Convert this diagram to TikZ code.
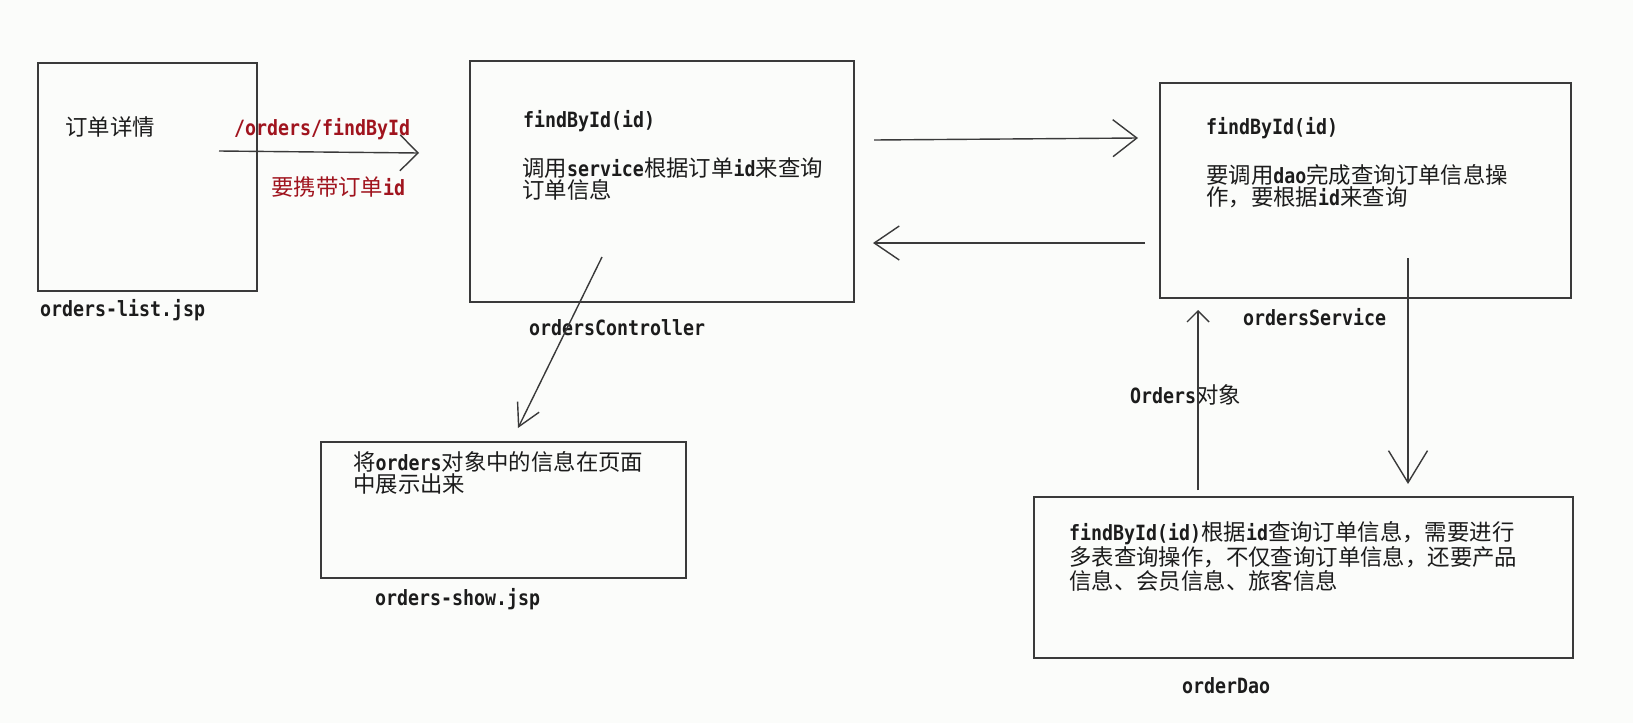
\documentclass[tikz,border=0pt]{standalone}
\usepackage{fontspec}
\setmainfont{Noto Sans CJK SC}
\newfontfamily\monofam{DejaVu Sans Mono}[FakeStretch=0.87]
\newcommand\monotx[1]{{\monofam\bfseries\fontsize{21}{22}\selectfont #1}}
\usetikzlibrary{arrows.meta}
\definecolor{bgc}{HTML}{FBFCFA}
\definecolor{linec}{HTML}{3A3A3A}
\definecolor{txtc}{HTML}{1C1C1C}
\definecolor{redc}{HTML}{A0141E}
\begin{document}
\begin{tikzpicture}[x=1pt,y=-1pt,
  box/.style={draw=linec,line width=1.8pt,inner sep=0pt},
  txt/.style={anchor=base west,inner sep=0pt,text=txtc,font=\fontsize{22.4}{24}\selectfont},
  redtxt/.style={txt,text=redc},
  conn/.style={draw=linec,line width=1.4pt},
]
\fill[bgc] (0,0) rectangle (1633,723);
\useasboundingbox (0,0) rectangle (1633,723);

% boxes
\node[box,minimum width=219pt,minimum height=228pt] (list) at (147.5,177) {};
\node[box,minimum width=384pt,minimum height=241pt] (ctrl) at (662,181.5) {};
\node[box,minimum width=411pt,minimum height=215pt] (svc) at (1365.5,190.5) {};
\node[box,minimum width=365pt,minimum height=136pt] (show) at (503.5,510) {};
\node[box,minimum width=539pt,minimum height=161pt] (dao) at (1303.5,577.5) {};

% texts
\node[txt] (t1) at (65,135) {订单详情};
\node[redtxt] (t2) at (234,135) {\monotx{/orders/findById}};
\node[redtxt] (t3) at (271,195) {要携带订单\monotx{id}};
\node[txt] (t4) at (40,316) {\monotx{orders-list.jsp}};

\node[txt] (c1) at (523,127) {\monotx{findById(id)}};
\node[txt] (c2) at (522,176) {调用\monotx{service}根据订单\monotx{id}来查询};
\node[txt] (c3) at (522,198) {订单信息};
\node[txt] (c4) at (529,335) {\monotx{ordersController}};

\node[txt] (s1) at (1206,134) {\monotx{findById(id)}};
\node[txt] (s2) at (1206,183) {要调用\monotx{dao}完成查询订单信息操};
\node[txt] (s3) at (1206,205) {作，要根据\monotx{id}来查询};
\node[txt] (s4) at (1243,325) {\monotx{ordersService}};

\node[txt] (o1) at (1130,403) {\monotx{Orders}对象};

\node[txt] (w1) at (353,470) {将\monotx{orders}对象中的信息在页面};
\node[txt] (w2) at (353,492) {中展示出来};
\node[txt] (w3) at (375,605) {\monotx{orders-show.jsp}};

\node[txt] (d1) at (1069,540) {\monotx{findById(id)}根据\monotx{id}查询订单信息，需要进行};
\node[txt] (d2) at (1069,565) {多表查询操作，不仅查询订单信息，还要产品};
\node[txt] (d3) at (1069,589) {信息、会员信息、旅客信息};
\node[txt] (d4) at (1182,693) {\monotx{orderDao}};

% connector end points
\coordinate (a1s) at (219,151);
\coordinate (a1e) at (419,153);
\coordinate (a2s) at (874,140);
\coordinate (a2e) at (1138,138);
\coordinate (a3s) at (1145,243);
\coordinate (a3e) at (873,243);
\coordinate (a4s) at (602,257);
\coordinate (a4e) at (518,428);
\coordinate (a5s) at (1408,258);
\coordinate (a5e) at (1408,484);
\coordinate (a6s) at (1198,490);
\coordinate (a6e) at (1198,310);

\draw[conn,-{Straight Barb[length=18pt,width=36pt,line width=1.4pt]}] (a1s) -- (a1e);
\draw[conn,-{Straight Barb[length=24pt,width=37pt,line width=1.4pt]}] (a2s) -- (a2e);
\draw[conn,-{Straight Barb[length=25pt,width=34pt,line width=1.4pt]}] (a3s) -- (a3e);
\draw[conn,-{Straight Barb[length=22pt,width=24pt,line width=1.4pt]}] (a4s) -- (a4e);
\draw[conn,-{Straight Barb[length=32pt,width=39pt,line width=1.4pt]}] (a5s) -- (a5e);
\draw[conn,-{Straight Barb[length=11pt,width=22pt,line width=1.4pt]}] (a6s) -- (a6e);
\end{tikzpicture}
\end{document}
